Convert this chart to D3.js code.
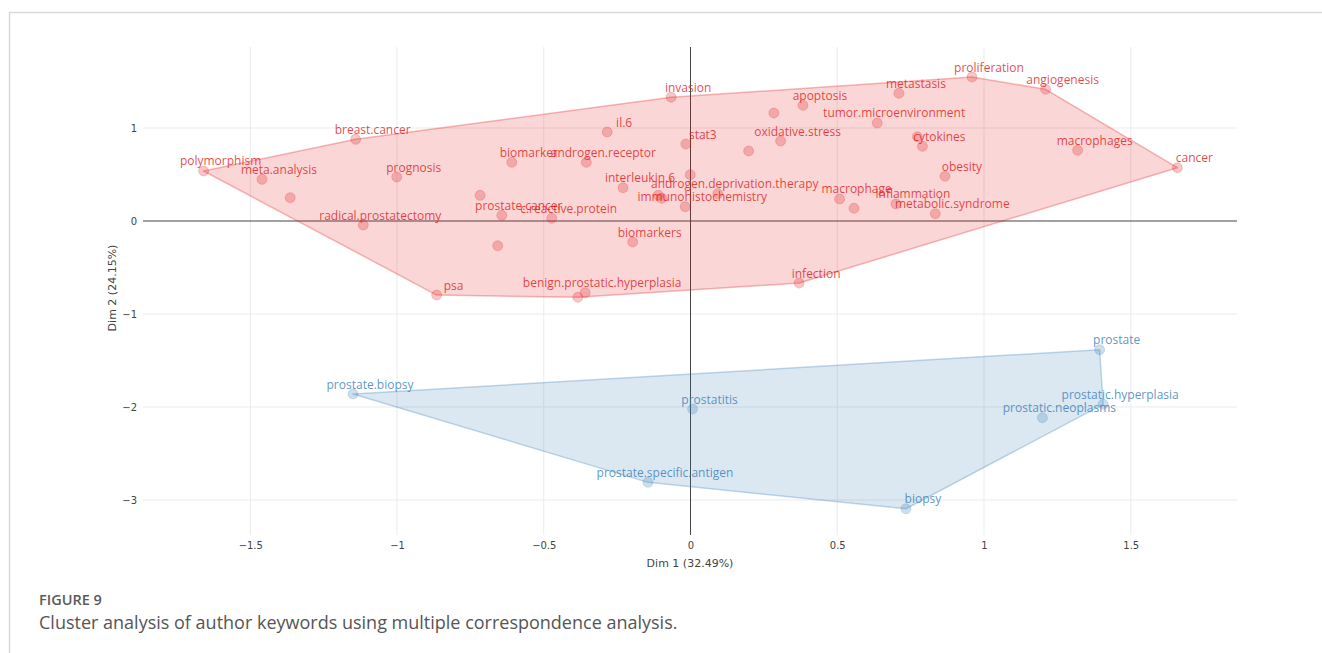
<!DOCTYPE html>
<html>
<head>
<meta charset="utf-8">
<script src="https://cdn.jsdelivr.net/npm/d3@7"></script>
<style>
  html, body { margin: 0; padding: 0; background: #fff; }
  svg { display: block; }
</style>
</head>
<body>
<svg id="chart" width="1322" height="653"></svg>
<script>
// Keyword coordinates from the multiple correspondence analysis
const keywords = [
  "polymorphism", "meta.analysis", "", "breast.cancer", "prognosis",
  "radical.prostatectomy", "psa", "", "prostate.cancer", "",
  "biomarker", "c.reactive.protein", "androgen.receptor", "benign.prostatic.hyperplasia", "",
  "il.6", "interleukin.6", "biomarkers", "", "",
  "invasion", "stat3", "immunohistochemistry", "", "androgen.deprivation.therapy",
  "", "", "oxidative.stress", "infection", "apoptosis",
  "macrophage", "", "tumor.microenvironment", "inflammation", "metastasis",
  "", "cytokines", "metabolic.syndrome", "obesity", "proliferation",
  "angiogenesis", "macrophages", "cancer",
  "prostate.biopsy", "prostate.specific.antigen", "prostatitis", "biopsy",
  "prostatic.neoplasms", "prostate", "prostatic.hyperplasia"
];
const dim1 = [
  -1.659, -1.460, -1.364, -1.141, -1.001,
  -1.115, -0.865, -0.717, -0.643, -0.657,
  -0.609, -0.473, -0.355, -0.359, -0.384,
  -0.284, -0.230, -0.197, -0.110, -0.098,
  -0.066, -0.016, -0.018, -0.001, 0.093,
  0.198, 0.284, 0.307, 0.370, 0.383,
  0.508, 0.557, 0.636, 0.700, 0.710,
  0.773, 0.790, 0.834, 0.867, 0.959,
  1.210, 1.319, 1.659,
  -1.150, -0.145, 0.007, 0.734,
  1.199, 1.394, 1.406
];
const dim2 = [
  0.538, 0.448, 0.251, 0.878, 0.473,
  -0.043, -0.796, 0.276, 0.061, -0.266,
  0.631, 0.029, 0.631, -0.771, -0.820,
  0.957, 0.358, -0.226, 0.276, 0.244,
  1.330, 0.828, 0.154, 0.498, 0.294,
  0.753, 1.161, 0.860, -0.667, 1.244,
  0.237, 0.137, 1.054, 0.183, 1.373,
  0.906, 0.803, 0.078, 0.481, 1.548,
  1.416, 0.760, 0.573,
  -1.860, -2.810, -2.022, -3.094,
  -2.115, -1.384, -1.971
];
const cluster = [
  1, 1, 1, 1, 1, 1, 1, 1, 1, 1,
  1, 1, 1, 1, 1, 1, 1, 1, 1, 1,
  1, 1, 1, 1, 1, 1, 1, 1, 1, 1,
  1, 1, 1, 1, 1, 1, 1, 1, 1, 1,
  1, 1, 1,
  2, 2, 2, 2, 2, 2, 2
];
const clusterColors = ["#E41A1C", "#377EB8"];
const xTicks = [-1.5, -1, -0.5, 0, 0.5, 1, 1.5];
const yTicks = [1, 0, -1, -2, -3];
const xTitle = "Dim 1 (32.49%)";
const yTitle = "Dim 2 (24.15%)";
const figLabel = "FIGURE 9";
const figCaption = "Cluster analysis of author keywords using multiple correspondence analysis.";

const svg = d3.select("#chart");
const W = 1322, H = 653;

// Card outline around the figure
svg.append("path")
  .attr("d", `M9.5,${H} L9.5,12.5 L${W},12.5`)
  .attr("fill", "none").attr("stroke", "#d9d9d9").attr("stroke-width", 1.5);

const plot = { left: 143, right: 1237, top: 47, bottom: 535 };
const x = d3.scaleLinear().domain([-1.8655, 1.8620]).range([plot.left, plot.right]);
const y = d3.scaleLinear().domain([1.871, -3.376]).range([plot.top, plot.bottom]);

const fmt = v => (v < 0 ? "\u2212" : "") + Math.abs(v);

// Grid
const grid = svg.append("g");
grid.selectAll("line.gx").data(xTicks.filter(d => d !== 0)).join("line")
  .attr("x1", d => x(d)).attr("x2", d => x(d))
  .attr("y1", plot.top).attr("y2", plot.bottom)
  .attr("stroke", "#ebebeb").attr("stroke-width", 1);
grid.selectAll("line.gy").data(yTicks.filter(d => d !== 0)).join("line")
  .attr("y1", d => y(d)).attr("y2", d => y(d))
  .attr("x1", plot.left).attr("x2", plot.right)
  .attr("stroke", "#ebebeb").attr("stroke-width", 1);

// Axes through origin
const xAxis = d3.axisBottom(x).tickValues(xTicks).tickFormat(fmt).tickSize(0).tickPadding(0);
const gx = svg.append("g").attr("transform", `translate(0,${plot.bottom})`).call(xAxis);
gx.select(".domain").remove();
gx.selectAll("text").attr("dy", "1.35em")
  .attr("font-family", "Verdana, 'DejaVu Sans', sans-serif").attr("font-size", 10).attr("fill", "#444");

const yAxis = d3.axisLeft(y).tickValues(yTicks).tickFormat(fmt).tickSize(0).tickPadding(6);
const gy = svg.append("g").attr("transform", `translate(${plot.left},0)`).call(yAxis);
gy.select(".domain").remove();
gy.selectAll("text")
  .attr("font-family", "Verdana, 'DejaVu Sans', sans-serif").attr("font-size", 10).attr("fill", "#444");

svg.append("line")
  .attr("x1", plot.left).attr("x2", plot.right)
  .attr("y1", y(0)).attr("y2", y(0))
  .attr("stroke", "#444").attr("stroke-width", 1);
svg.append("line")
  .attr("x1", x(0)).attr("x2", x(0))
  .attr("y1", plot.top).attr("y2", plot.bottom)
  .attr("stroke", "#444").attr("stroke-width", 1);

// Axis titles
svg.append("text")
  .attr("x", (plot.left + plot.right) / 2).attr("y", 567)
  .attr("text-anchor", "middle")
  .attr("font-family", "Verdana, 'DejaVu Sans', sans-serif").attr("font-size", 11).attr("fill", "#444")
  .text(xTitle);
svg.append("text")
  .attr("transform", `translate(116,288) rotate(-90)`)
  .attr("text-anchor", "middle")
  .attr("font-family", "Verdana, 'DejaVu Sans', sans-serif").attr("font-size", 11).attr("fill", "#444")
  .text(yTitle);

// Build per-keyword records
const pts = keywords.map((k, i) => ({ label: k, d1: dim1[i], d2: dim2[i], c: cluster[i] }));
const groups = d3.groups(pts, d => d.c);

// Convex hulls
const hulls = svg.append("g");
groups.forEach(([c, arr]) => {
  const col = clusterColors[c - 1];
  const hull = d3.polygonHull(arr.map(d => [x(d.d1), y(d.d2)]));
  hulls.append("path")
    .attr("d", "M" + hull.join("L") + "Z")
    .attr("fill", col).attr("fill-opacity", 0.18)
    .attr("stroke", col).attr("stroke-opacity", 0.3).attr("stroke-width", 1.5)
    .attr("stroke-linejoin", "round");
});

// Points
svg.append("g").selectAll("circle").data(pts).join("circle")
  .attr("cx", d => x(d.d1)).attr("cy", d => y(d.d2)).attr("r", 5)
  .attr("fill", d => clusterColors[d.c - 1]).attr("fill-opacity", 0.25)
  .attr("stroke", d => clusterColors[d.c - 1]).attr("stroke-opacity", 0.2).attr("stroke-width", 1);

// Keyword labels
svg.append("g").selectAll("text").data(pts.filter(d => d.label)).join("text")
  .attr("x", d => x(d.d1) + 17).attr("y", d => y(d.d2) - 10)
  .attr("text-anchor", "middle").attr("dominant-baseline", "central")
  .attr("font-family", "'Open Sans', 'Noto Sans', sans-serif").attr("font-size", 12)
  .attr("fill", d => clusterColors[d.c - 1]).attr("fill-opacity", 0.82)
  .text(d => d.label);

// Figure caption
svg.append("text")
  .attr("x", 39).attr("y", 605)
  .attr("font-family", "'Open Sans', sans-serif").attr("font-size", 14.5).attr("font-weight", 600)
  .attr("fill", "#5a5a5a")
  .text(figLabel);
svg.append("text")
  .attr("x", 39).attr("y", 629)
  .attr("font-family", "'Open Sans', sans-serif").attr("font-size", 18)
  .attr("fill", "#555")
  .text(figCaption);
</script>
</body>
</html>
